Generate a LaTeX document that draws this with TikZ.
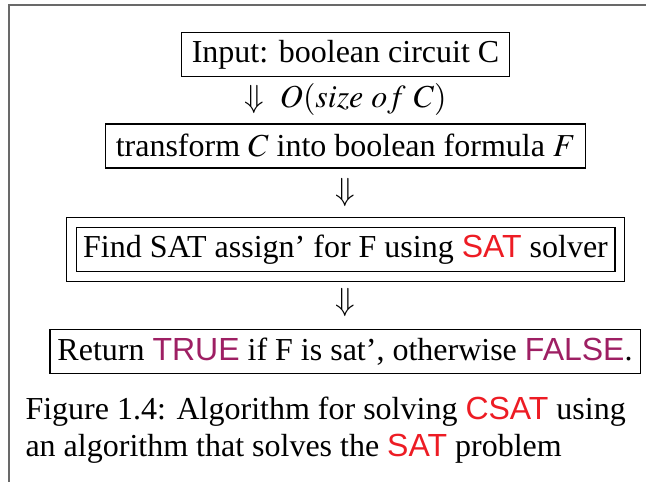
\documentclass[tikz,border=0pt]{standalone}
\usepackage{mathptmx}
\usepackage{fontspec}
\setmainfont{Liberation Serif}
\newfontfamily\satfont{Liberation Sans}
\definecolor{satred}{RGB}{237,28,36}
\definecolor{boolpurple}{RGB}{158,31,99}
\definecolor{framegray}{RGB}{105,105,105}
\newcommand{\satw}[1]{{\satfont\color{satred}#1}}
\newcommand{\boolw}[1]{{\satfont\color{boolpurple}#1}}

\begin{document}
\begin{tikzpicture}[x=0.375pt, y=-0.375pt, font=\fontsize{12}{14}\selectfont]
        \tikzstyle{stepbox} = [draw, line width=0.4pt, inner xsep=3.7pt, inner ysep=0pt, minimum height=16.5pt]
        \tikzstyle{implies} = [inner sep=0pt]
        \tikzstyle{captext} = [anchor=base west, inner sep=0pt]
        \useasboundingbox (0,0) rectangle (646,482);
        \draw[framegray, line width=0.8pt] (9,482) -- (9,5) -- (646,5);

                \node [stepbox](input) at (345.5, 54.5) {Input: boolean circuit C};
                \node [implies](cost) at (345.5, 100) {$\Downarrow$\ \ $O(size\ of\ C)$};
                \node [stepbox](trans) at (345.5, 146) {transform $C$ into boolean formula $F$};
                \node [implies](d2) at (345.5, 192) {$\Downarrow$};
                \node [stepbox, double, double distance=3.3pt, inner xsep=4.5pt, minimum height=20pt](find) at (345.5, 249.5)
                        {Find SAT assign' for F using \satw{SAT} solver};
                \node [implies](d3) at (345.5, 302) {$\Downarrow$};
                \node [stepbox, inner xsep=2.8pt](ret) at (345, 351.5) {Return \boolw{TRUE} if F is sat', otherwise \boolw{FALSE}.};

                \node [captext](cap1) at (25, 419) {Figure 1.4: Algorithm for solving \satw{CSAT} using};
                \node [captext](cap2) at (25, 456) {an algorithm that solves the \satw{SAT} problem};
\end{tikzpicture}
\end{document}
